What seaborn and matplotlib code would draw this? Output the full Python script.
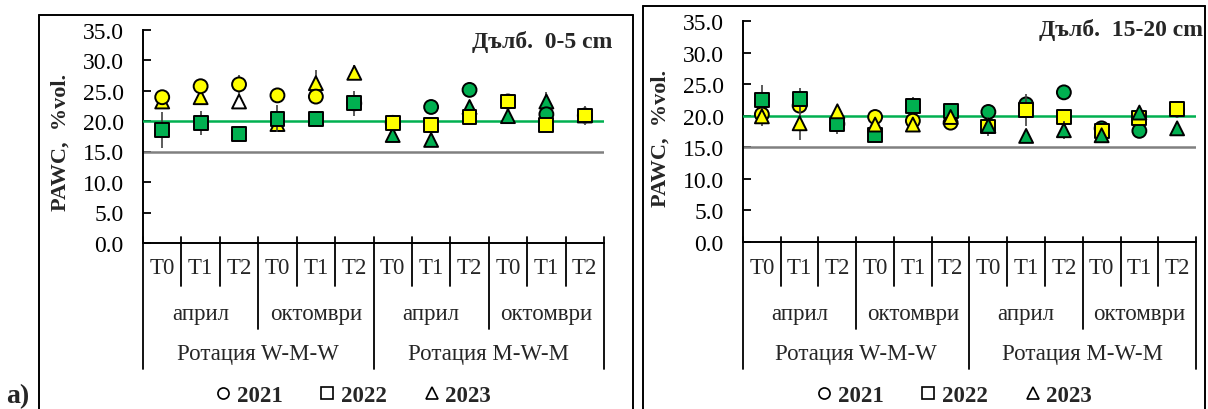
import numpy as np
import pandas as pd
import matplotlib
matplotlib.use("Agg")
import matplotlib.pyplot as plt
import matplotlib.transforms as mtrans
from matplotlib.lines import Line2D
import seaborn as sns

# ---------------- data ----------------
treatments = ["T0", "T1", "T2"] * 4
months = ["април", "октомври", "април", "октомври"]
rotations = ["Ротация W-M-W", "Ротация M-W-M"]
years = ["2021", "2022", "2023"]

# crop grown in each year (W = wheat, yellow; M = maize, green)
crop_2021 = ["W"] * 6 + ["M"] * 6
crop_2022 = ["M"] * 6 + ["W"] * 6
crop_2023 = ["W"] * 6 + ["M"] * 6
crop_2023_left = ["W", "W", "none", "W", "W", "W"] + ["M"] * 6

# Panel a: depth 0-5 cm
left_2021 = [23.9, 25.7, 26.0, 24.2, 24.0, 22.9, 19.7, 22.3, 25.1, 23.2, 21.1, 20.9]
left_2022 = [18.5, 19.7, 17.9, 20.4, 20.4, 22.9, 19.7, 19.3, 20.6, 23.2, 19.3, 20.9]
left_2023 = [23.2, 23.9, 23.2, 19.5, 26.2, 27.9, 17.7, 16.9, 22.3, 20.8, 23.2, 20.9]
left_err_2021 = [0.0, 0.0, 1.6, 0.0, 0.0, 0.0, 0.0, 0.0, 0.0, 0.0, 0.0, 0.0]
left_err_2022 = [3.0, 2.0, 0.0, 2.2, 0.8, 2.1, 0.4, 0.4, 0.4, 0.4, 0.4, 1.5]
left_err_2023 = [0.0, 0.0, 1.0, 0.0, 2.1, 1.2, 0.0, 0.0, 0.0, 0.0, 1.5, 0.0]

# Panel b: depth 15-20 cm
right_2021 = [20.2, 21.6, 18.7, 19.8, 19.2, 18.9, 20.6, 21.8, 23.7, 18.0, 17.6, 21.0]
right_2022 = [22.5, 22.6, 18.6, 17.0, 21.6, 20.7, 18.3, 20.9, 19.8, 17.6, 19.7, 21.0]
right_2023 = [19.9, 18.8, 20.7, 18.6, 18.6, 19.8, 18.4, 16.8, 17.7, 16.9, 20.5, 18.0]
right_err_2021 = [1.8, 0.0, 0.0, 0.0, 0.0, 0.0, 0.0, 0.0, 0.0, 0.0, 0.0, 0.0]
right_err_2022 = [2.3, 1.8, 1.5, 0.0, 1.3, 0.0, 1.5, 2.5, 0.0, 0.0, 0.0, 1.3]
right_err_2023 = [0.0, 2.6, 0.0, 0.0, 0.0, 0.0, 0.0, 0.0, 1.4, 0.0, 0.0, 0.0]

ref_optimum = 20.0
ref_lower = 15.0

titles = ["Дълб.  0-5 cm", "Дълб.  15-20 cm"]
ylabel = "PAWC,  %vol."

# ---------------- style ----------------
sns.set_theme(style="white")
plt.rcParams["font.family"] = ["Liberation Serif", "DejaVu Serif"]

YELLOW = "#FFFF00"
GREEN = "#00B050"
palette = {"W": YELLOW, "M": GREEN, "none": "white"}
markers = {"2021": "o", "2022": "s", "2023": "^"}

W, H = 1208, 410
fig = plt.figure(figsize=(W / 100, H / 100), dpi=100)


def px_rect(x0, x1, y_top, y_bot):
    return [x0 / W, 1 - y_bot / H, (x1 - x0) / W, (y_bot - y_top) / H]


def build(vals, errs, crops):
    rows = []
    for yr, v, e, c in zip(years, vals, errs, crops):
        for i in range(len(v)):
            rows.append({"pos": i, "year": yr, "value": v[i], "err": e[i], "crop": c[i]})
    return pd.DataFrame(rows)


df_left = build([left_2021, left_2022, left_2023],
                [left_err_2021, left_err_2022, left_err_2023],
                [crop_2021, crop_2022, crop_2023_left])
df_right = build([right_2021, right_2022, right_2023],
                 [right_err_2021, right_err_2022, right_err_2023],
                 [crop_2021, crop_2022, crop_2023])

panels = [
    dict(df=df_left, rect=px_rect(143, 604, 30.5, 244), title=titles[0],
         title_xy=(612, 42), ylab_xy=(61, 142), frame=(39, 633, 16), leg_x=352,
         zorders={"2023": 4, "2021": 5, "2022": 6}),
    dict(df=df_right, rect=px_rect(743, 1196, 22, 243), title=titles[1],
         title_xy=(1203, 30), ylab_xy=(661, 138), frame=(643, 1205, 7), leg_x=953,
         zorders={"2021": 4, "2022": 5, "2023": 6}),
]

FS = 16.5

for p in panels:
    ax = fig.add_axes(p["rect"])
    df = p["df"]
    zo = p["zorders"]
    for yr in years:
        d = df[df.year == yr]
        ax.errorbar(d["pos"], d["value"], yerr=d["err"], fmt="none",
                    ecolor="#404040", elinewidth=1.2, capsize=0, zorder=zo[yr] - 0.5)
        sns.scatterplot(data=d, x="pos", y="value", hue="crop", palette=palette,
                        marker=markers[yr], s=100, edgecolor="black", linewidth=1.4,
                        legend=False, ax=ax, zorder=zo[yr])
    ax.axhline(ref_optimum, color=GREEN, lw=1.8, zorder=3.5)
    ax.axhline(ref_lower, color="#808080", lw=1.8, zorder=1)

    ax.set_xlim(-0.5, 11.5)
    ax.set_ylim(0, 35)
    ax.set_yticks(np.arange(0, 36, 5))
    ax.set_yticklabels([f"{v:.1f}" for v in np.arange(0, 36, 5)])
    ax.set_xticks([])
    ax.set_xlabel("")
    ax.set_ylabel("")
    ax.tick_params(axis="y", direction="in", length=6, width=1.3, pad=14,
                   labelsize=17, colors="black", left=True)
    sns.despine(ax=ax)
    for s in ["left", "bottom"]:
        ax.spines[s].set_color("black")
        ax.spines[s].set_linewidth(1.4)

    # hierarchical category axis
    tr = mtrans.blended_transform_factory(ax.transData, fig.transFigure)
    fy = lambda ypx: 1 - ypx / H
    n = len(treatments)
    for k in range(n + 1):
        xb = k - 0.5
        if k % 6 == 0:
            ybot = 370
        elif k % 3 == 0:
            ybot = 330
        else:
            ybot = 287
        ax.add_line(Line2D([xb, xb], [fy(238), fy(ybot)], transform=tr,
                           color="black", lw=1.3, clip_on=False))
    for i, t in enumerate(treatments):
        ax.text(i, fy(269), t, transform=tr, ha="center", va="center", fontsize=FS)
    for j, m in enumerate(months):
        ax.text(j * 3 + 1, fy(315), m, transform=tr, ha="center", va="center", fontsize=FS)
    for j, r in enumerate(rotations):
        ax.text(j * 6 + 2.5, fy(355), r, transform=tr, ha="center", va="center", fontsize=FS)

    # title, y label
    fig.text(p["title_xy"][0] / W, fy(p["title_xy"][1]), p["title"], ha="right",
             va="center", fontsize=17, fontweight="bold")
    fig.text(p["ylab_xy"][0] / W, fy(p["ylab_xy"][1]), ylabel, rotation=90,
             ha="center", va="center", fontsize=16, fontweight="bold")

    # frame
    x0, x1, yt = p["frame"]
    for xs, ys in [([x0, x1], [yt, yt]), ([x0, x0], [yt, H + 5]), ([x1, x1], [yt, H + 5])]:
        fig.add_artist(Line2D([v / W for v in xs], [fy(v) for v in ys],
                              transform=fig.transFigure, color="black", lw=1.4))

    # legend
    handles = [Line2D([], [], ls="", marker=markers[yr], mfc="white", mec="black",
                      ms=8, mew=1.2) for yr in years]
    fig.legend(handles, years, ncol=3, loc="center",
               bbox_to_anchor=(p["leg_x"] / W, fy(396)), frameon=False,
               prop={"family": "Liberation Serif", "weight": "bold", "size": FS},
               handletextpad=0.15, columnspacing=1.5, handlelength=0.9,
               borderpad=0, borderaxespad=0)

fig.text(6 / W, 1 - 397 / H, "a)", ha="left", va="center", fontsize=20,
         fontweight="bold")

fig.savefig("out.png", dpi=100)
